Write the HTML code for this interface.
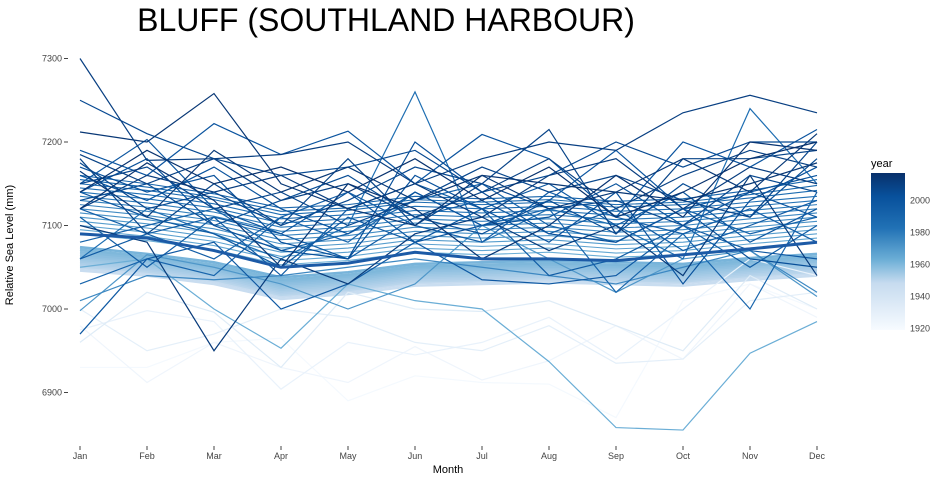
<!DOCTYPE html>
<html><head><meta charset="utf-8"><style>
body{margin:0;background:#fff;font-family:"Liberation Sans",sans-serif}
svg text{font-family:"Liberation Sans",sans-serif}
</style></head><body>
<svg id="chart" width="940" height="480" viewBox="0 0 940 480" xmlns="http://www.w3.org/2000/svg">
<defs><linearGradient id="lg" x1="0" y1="1" x2="0" y2="0">
<stop offset="0" stop-color="#f7fbff"/><stop offset="0.3" stop-color="#c6dbef"/><stop offset="0.45" stop-color="#6baed6"/><stop offset="0.65" stop-color="#2171b5"/><stop offset="0.85" stop-color="#08519c"/><stop offset="1" stop-color="#08306b"/></linearGradient></defs>
<text x="386" y="31" font-size="32" text-anchor="middle" fill="#000">BLUFF (SOUTHLAND HARBOUR)</text>
<g id="yaxis"></g>
<g id="xaxis"></g>
<g id="lines"></g>
<text transform="translate(13,245) rotate(-90)" font-size="11" text-anchor="middle">Relative Sea Level (mm)</text>
<text x="448" y="473" font-size="11" text-anchor="middle">Month</text>
<g>
<text x="871" y="167" font-size="11">year</text>
<rect x="871" y="173" width="34" height="157" fill="url(#lg)"/>
<g id="leg"></g>
</g>
</svg>
<script>
const months=["Jan","Feb","Mar","Apr","May","Jun","Jul","Aug","Sep","Oct","Nov","Dec"];
const yTicks=[6900,7000,7100,7200,7300];
const legendTicks=[1920,1940,1960,1980,2000];
const bandYears=[1946,1948,1950,1951,1952,1953,1954,1955,1956,1957,1958,1959,1960];
const bandValues=[
[7046,7040,7030,7012,7018,7028,7030,7032,7030,7028,7035,7040],
[7049,7043,7033,7015,7021,7031,7033,7035,7033,7031,7038,7043],
[7051,7045,7035,7017,7023,7033,7035,7037,7035,7033,7040,7045],
[7053,7047,7037,7019,7025,7035,7037,7039,7037,7035,7042,7047],
[7055,7049,7039,7021,7027,7037,7039,7041,7039,7037,7044,7049],
[7057,7051,7041,7023,7029,7039,7041,7043,7041,7039,7046,7051],
[7059,7053,7043,7025,7031,7041,7043,7045,7043,7041,7048,7053],
[7061,7055,7045,7027,7033,7043,7045,7047,7045,7043,7050,7055],
[7063,7057,7047,7029,7035,7045,7047,7049,7047,7045,7052,7057],
[7065,7059,7049,7031,7037,7047,7049,7051,7049,7047,7054,7059],
[7068,7061,7051,7033,7039,7049,7051,7053,7051,7049,7056,7061],
[7071,7063,7053,7035,7041,7051,7053,7055,7053,7051,7058,7063],
[7074,7066,7056,7038,7044,7054,7056,7058,7056,7054,7061,7066]];
const stripeYears=[1962,1964,1966,1968,1970,1972,1974,1976,1978,1980,1982,1984,1986,1988,1990];
const stripeValues=[
[7090,7082,7071,7053,7058,7068,7065,7068,7062,7065,7073,7080],
[7095,7087,7076,7058,7063,7073,7070,7073,7067,7070,7078,7085],
[7100,7092,7081,7063,7068,7078,7075,7078,7072,7075,7083,7090],
[7105,7097,7086,7068,7073,7083,7080,7083,7077,7080,7088,7095],
[7110,7102,7091,7073,7078,7088,7085,7088,7082,7085,7093,7100],
[7115,7107,7096,7078,7083,7093,7090,7093,7087,7090,7098,7105],
[7120,7112,7101,7083,7088,7098,7095,7098,7092,7095,7103,7110],
[7125,7117,7106,7088,7093,7103,7100,7103,7097,7100,7108,7115],
[7130,7122,7111,7093,7098,7108,7105,7108,7102,7105,7113,7120],
[7135,7127,7116,7098,7103,7113,7110,7113,7107,7110,7118,7125],
[7140,7132,7121,7103,7108,7118,7115,7118,7112,7115,7123,7130],
[7145,7137,7126,7108,7113,7123,7120,7123,7117,7120,7128,7135],
[7150,7142,7131,7113,7118,7128,7125,7128,7122,7125,7133,7142],
[7155,7146,7134,7117,7121,7131,7128,7131,7125,7128,7137,7148],
[7160,7150,7138,7121,7125,7135,7132,7135,7129,7132,7142,7155]];
const years=[1921,1924,1927,1930,1933,1962,1970,1975,
1985,1990,1995,1997,1999,2000,2002,2003,2005,2008,2010,2012,2014,2015,
1992,1994,1996,1998,2001,2004,2006,2007,2009,2011,2013,2016];
const values=[
[6930,6930,6960,6965,6890,6920,6912,6910,6870,7010,7030,7000],
[6980,6912,6960,6930,6912,6955,6915,6938,6980,6940,7030,6990],
[6975,6998,6985,6904,6960,6945,6960,6990,6940,7000,7060,7040],
[7000,6950,6970,7000,6990,6960,6950,6980,6935,6940,7010,7020],
[6960,7020,6996,6930,7020,7000,6997,7010,6980,6950,7040,7000],
[7050,7060,7000,6953,7030,7010,7000,6937,6858,6855,6947,6985],
[6998,7065,7050,7030,7000,7030,7100,7060,7020,7060,7070,7015],
[7010,7040,7035,7040,7050,7060,7050,7040,7030,7050,7070,7020],
[7060,7120,7090,7060,7100,7260,7080,7120,7100,7060,7240,7150],
[7030,7060,7040,7110,7080,7140,7100,7120,7020,7090,7000,7140],
[7110,7050,7110,7040,7120,7150,7120,7040,7060,7100,7050,7100],
[6970,7060,7080,7000,7030,7080,7035,7030,7040,7100,7070,7060],
[7150,7203,7120,7090,7140,7080,7100,7130,7190,7120,7140,7110],
[7190,7160,7222,7185,7213,7150,7209,7180,7110,7200,7170,7215],
[7170,7140,7160,7080,7060,7160,7120,7080,7140,7030,7130,7170],
[7140,7180,7100,7070,7060,7200,7140,7090,7080,7120,7060,7050],
[7250,7210,7180,7160,7170,7190,7140,7160,7200,7170,7200,7200],
[7180,7090,7150,7100,7180,7100,7150,7215,7090,7180,7180,7190],
[7300,7178,7180,7185,7200,7150,7180,7200,7190,7235,7256,7235],
[7100,7080,6950,7060,7030,7090,7110,7070,7100,7040,7160,7040],
[7212,7200,7258,7150,7120,7100,7160,7150,7140,7130,7150,7175],
[7120,7175,7130,7050,7150,7120,7060,7100,7160,7110,7200,7190],
[7080,7100,7120,7070,7090,7130,7150,7100,7080,7120,7090,7110],
[7120,7090,7060,7110,7140,7100,7080,7140,7110,7090,7120,7080],
[7060,7090,7110,7090,7060,7110,7130,7090,7120,7070,7100,7130],
[7140,7110,7090,7050,7110,7080,7120,7150,7100,7140,7080,7120],
[7160,7130,7170,7120,7090,7140,7100,7110,7150,7100,7140,7160],
[7130,7150,7100,7130,7160,7110,7090,7130,7090,7150,7110,7180],
[7175,7120,7140,7100,7130,7170,7150,7120,7130,7100,7160,7140],
[7150,7170,7120,7140,7100,7130,7170,7140,7160,7130,7110,7200],
[7185,7150,7180,7130,7150,7110,7140,7180,7120,7160,7190,7170],
[7120,7160,7140,7160,7120,7150,7110,7160,7180,7120,7170,7150],
[7165,7110,7190,7140,7170,7130,7160,7120,7140,7180,7140,7210],
[7140,7190,7150,7170,7140,7180,7130,7170,7110,7140,7180,7200]];
const meanLine=[7090,7085,7070,7050,7055,7068,7060,7060,7058,7065,7072,7080];

const NS="http://www.w3.org/2000/svg";
const X=i=>80+i*67;
const Y=v=>309-(v-7000)*0.835;
const LY=yr=>330-(yr-1919)*1.6;
const stops=[[1919,[247,251,255]],[1948,[198,219,239]],[1962,[107,174,214]],[1983,[33,113,181]],[2002,[8,81,156]],[2017,[8,48,107]]];
function col(yr){for(let k=0;k<stops.length-1;k++){const a=stops[k],b=stops[k+1];if(yr<=b[0]){const t=Math.max(0,(yr-a[0])/(b[0]-a[0]));return "rgb("+a[1].map((c,j)=>Math.round(c+(b[1][j]-c)*t)).join(",")+")";}}return "rgb(8,48,107)";}
const ya=document.getElementById('yaxis');
yTicks.forEach(v=>{const t=document.createElementNS(NS,'text');


t.setAttribute('x',62);t.setAttribute('y',Y(v)+3);t.setAttribute('font-size','9');t.setAttribute('text-anchor','end');t.setAttribute('fill','#444');t.textContent=v;ya.appendChild(t);
const l=document.createElementNS(NS,'line');


l.setAttribute('x1',64);l.setAttribute('x2',68);l.setAttribute('y1',Y(v));l.setAttribute('y2',Y(v));l.setAttribute('stroke','#444');ya.appendChild(l);});
const xa=document.getElementById('xaxis');
months.forEach((m,i)=>{const t=document.createElementNS(NS,'text');


t.setAttribute('x',X(i));t.setAttribute('y',459);t.setAttribute('font-size','9');t.setAttribute('text-anchor','middle');t.setAttribute('fill','#444');t.textContent=m;xa.appendChild(t);
const l=document.createElementNS(NS,'line');


l.setAttribute('x1',X(i));l.setAttribute('x2',X(i));l.setAttribute('y1',446);l.setAttribute('y2',450);l.setAttribute('stroke','#444');xa.appendChild(l);});
const g=document.getElementById('lines');
function draw(yr,vals,w,name){const p=document.createElementNS(NS,'path');


p.setAttribute('d',vals.map((v,j)=>(j?'L':'M')+X(j)+','+Y(v)).join(''));
p.setAttribute('fill','none');p.setAttribute('stroke',col(yr));p.setAttribute('stroke-width',w);g.appendChild(p);}
bandYears.forEach((y,i)=>draw(y,bandValues[i],2.6,'band-line'));
stripeYears.forEach((y,i)=>draw(y,stripeValues[i],1.1,'stripe-line'));
const order=years.map((y,i)=>i).sort((a,b)=>years[a]-years[b]);
order.forEach(i=>draw(years[i],values[i],1.2,'year-line'));
const mp=document.createElementNS(NS,'path');


mp.setAttribute('d',meanLine.map((v,j)=>(j?'L':'M')+X(j)+','+Y(v)).join(''));
mp.setAttribute('fill','none');mp.setAttribute('stroke','#1c5aa6');mp.setAttribute('stroke-width','3');g.appendChild(mp);
const lg=document.getElementById('leg');
legendTicks.forEach(yr=>{const t=document.createElementNS(NS,'text');


t.setAttribute('x',910);t.setAttribute('y',LY(yr)+3);t.setAttribute('font-size','9');t.setAttribute('fill','#444');t.textContent=yr;lg.appendChild(t);});
</script>
</body></html>
